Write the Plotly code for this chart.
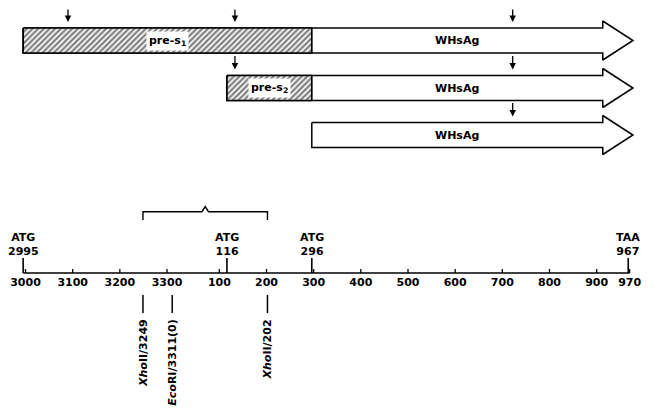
import plotly.graph_objects as go

# ---------------- data ----------------
GENOME_LEN = 3311  # EcoRI site = 3311 = position 0
tick_values = [3000, 3100, 3200, 3300, 100, 200, 300, 400, 500, 600, 700, 800, 900, 970]
tick_labels = ["3000", "3100", "3200", "3300", "100", "200", "300", "400", "500",
               "600", "700", "800", "900", "970"]
codon_sites = [2995, 116, 296, 967]
codon_names = ["ATG", "ATG", "ATG", "TAA"]
restriction_sites = [3249, 3311, 202]
restriction_labels = ["<i>Xho</i>II/3249", "<i>Eco</i>RI/3311(0)", "<i>Xho</i>II/202"]
bracket_span = [3249, 202]
protein_starts = [2995, 116, 296]          # ATG start of each protein
surface_start = 296                        # start of WHsAg domain
stop_codon = 967
pre_labels = ["pre-s<sub>1</sub>", "pre-s<sub>2</sub>", None]
domain_label = "WHsAg"
marker_sites = [[3090, 133, 722], [133, 722], [722]]  # small arrows above each protein

# ---------------- style ----------------
FONT = "DejaVu Sans"
row_center = [40.5, 88.0, 135.0]
body_half = 12.5
head_half = 19.5
head_len = 64
tip_over = 10
axis_y = 273
PAGE_MARGIN = 8  # browser default body margin


def u(v):
    return v - GENOME_LEN if v > 2000 else v


fig = go.Figure()

# protein arrows
for i, s in enumerate(protein_starts):
    yc = row_center[i]
    top, bot = yc - body_half, yc + body_half
    x0 = u(s)
    tip = u(stop_codon) + tip_over
    hs = tip - head_len
    xs = [x0, hs, hs, tip, hs, hs, x0, x0]
    ys = [top, top, yc - head_half, yc, yc + head_half, bot, bot, top]
    fig.add_trace(go.Scatter(x=xs, y=ys, mode="lines", fill="toself", fillcolor="white",
                             line=dict(color="black", width=1.5), hoverinfo="skip"))
    if u(s) < u(surface_start):
        xa, xb = u(s), u(surface_start)
        fig.add_trace(go.Scatter(x=[xa, xb, xb, xa, xa], y=[top, top, bot, bot, top],
                                 mode="lines", fill="toself",
                                 fillpattern=dict(shape="/", fgcolor="black", bgcolor="white",
                                                  size=4, solidity=0.55),
                                 line=dict(color="black", width=1.7), hoverinfo="skip"))
        fig.add_annotation(x=(xa + xb) / 2, y=yc, text="<b>" + pre_labels[i] + "</b>",
                           showarrow=False, bgcolor="white", borderpad=2,
                           font=dict(family=FONT, size=11, color="black"))
    fig.add_annotation(x=(u(surface_start) + hs) / 2, y=yc, text="<b>" + domain_label + "</b>",
                       showarrow=False, font=dict(family=FONT, size=11, color="black"))
    for m in marker_sites[i]:
        fig.add_annotation(x=u(m), y=top - 6, ax=0, ay=-15, text="", showarrow=True,
                           arrowhead=2, arrowsize=1, arrowwidth=1.3, arrowcolor="black")

# bracket
ba, bb = u(bracket_span[0]), u(bracket_span[1])
bm = (ba + bb) / 2
fig.add_trace(go.Scatter(x=[ba, ba, bm - 7, bm, bm + 7, bb, bb],
                         y=[220, 211.7, 211.7, 206.5, 211.7, 211.7, 220],
                         mode="lines", line=dict(color="black", width=1.4), hoverinfo="skip"))

# axis line
fig.add_trace(go.Scatter(x=[u(codon_sites[0]), u(tick_values[-1])], y=[axis_y, axis_y],
                         mode="lines", line=dict(color="black", width=1.6), hoverinfo="skip"))
# hundreds ticks
tx, ty = [], []
for v in tick_values:
    tx += [u(v), u(v), None]
    ty += [axis_y, axis_y - 4, None]
fig.add_trace(go.Scatter(x=tx, y=ty, mode="lines", line=dict(color="black", width=1.3),
                         hoverinfo="skip"))
fig.add_trace(go.Scatter(x=[u(v) for v in tick_values], y=[axis_y + 10] * len(tick_values),
                         mode="text", text=["<b>%s</b>" % t for t in tick_labels],
                         textfont=dict(family=FONT, size=11, color="black"), hoverinfo="skip"))
# codon ticks + labels
cx, cy = [], []
for v in codon_sites:
    cx += [u(v), u(v), None]
    cy += [axis_y, axis_y - 15, None]
fig.add_trace(go.Scatter(x=cx, y=cy, mode="lines", line=dict(color="black", width=1.6),
                         hoverinfo="skip"))
for v, n in zip(codon_sites, codon_names):
    fig.add_annotation(x=u(v), y=244, text="<b>%s<br>%d</b>" % (n, v), showarrow=False,
                       font=dict(family=FONT, size=11, color="black"), align="center")

# restriction sites
rx, ry = [], []
for v in restriction_sites:
    rx += [u(v), u(v), None]
    ry += [295, 313, None]
fig.add_trace(go.Scatter(x=rx, y=ry, mode="lines", line=dict(color="black", width=1.5),
                         hoverinfo="skip"))
for v, t in zip(restriction_sites, restriction_labels):
    fig.add_annotation(x=u(v), y=317, text="<b>%s</b>" % t, textangle=-90, showarrow=False,
                       xanchor="center", yanchor="top",
                       font=dict(family=FONT, size=11, color="black"))

# figure sized to fit the window inside the page's default body margin
W, H = 657 - PAGE_MARGIN, 412 - PAGE_MARGIN
px_per_unit = 0.4716
x_at_zero = 172.2
fig.update_layout(
    width=W, height=H, margin=dict(l=0, r=0, t=0, b=0),
    paper_bgcolor="white", plot_bgcolor="white", showlegend=False,
    xaxis=dict(range=[(PAGE_MARGIN - x_at_zero) / px_per_unit,
                      (657 - x_at_zero) / px_per_unit], visible=False, fixedrange=True),
    yaxis=dict(range=[412, PAGE_MARGIN], visible=False, fixedrange=True),
)
fig.write_html("out.html")
